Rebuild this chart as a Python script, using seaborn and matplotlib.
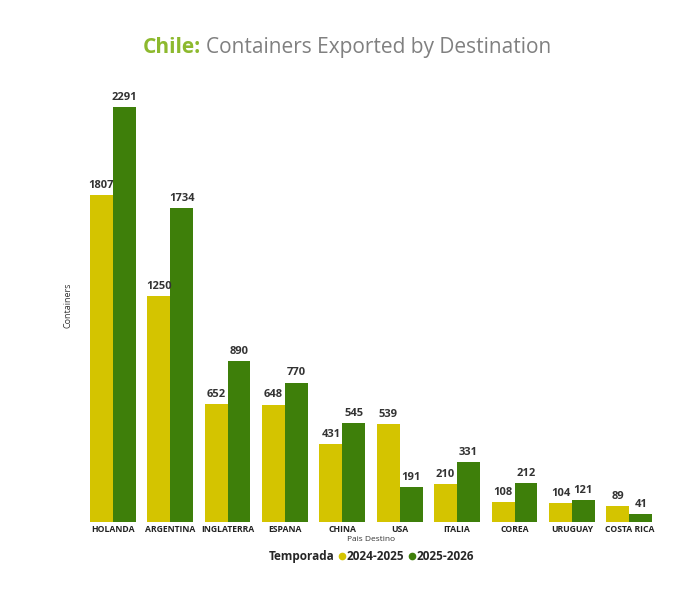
import pandas as pd
import seaborn as sns
import matplotlib.pyplot as plt
from matplotlib.offsetbox import HPacker

destinos = ['HOLANDA', 'ARGENTINA', 'INGLATERRA', 'ESPANA', 'CHINA',
            'USA', 'ITALIA', 'COREA', 'URUGUAY', 'COSTA RICA']
temp_2425 = [1807, 1250, 652, 648, 431, 539, 210, 108, 104, 89]
temp_2526 = [2291, 1734, 890, 770, 545, 191, 331, 212, 121, 41]
temporadas = ['2024-2025', '2025-2026']
colores = ['#D4C400', '#3E7F0A']

df = pd.DataFrame({
    'Pais Destino': destinos * 2,
    'Containers': temp_2425 + temp_2526,
    'Temporada': [temporadas[0]] * len(destinos) + [temporadas[1]] * len(destinos),
})

sns.set_theme(style='white')
plt.rcParams['font.family'] = ['Open Sans', 'DejaVu Sans']

fig = plt.figure(figsize=(7, 5.93), dpi=100)
ax = fig.add_axes([0.12, 0.12, 0.82, 0.732])

sns.barplot(data=df, x='Pais Destino', y='Containers', hue='Temporada',
            palette=colores, width=0.8, saturation=1, linewidth=0,
            ax=ax, legend=False)

for cont in ax.containers:
    ax.bar_label(cont, padding=3, fontsize=8, fontweight='bold', color='#333333')

ax.set_ylim(0, 2400)
ax.set_yticks([])
ax.set_xlim(-0.5, len(destinos) - 0.5)
for s in ax.spines.values():
    s.set_visible(False)
ax.tick_params(axis='x', length=0, pad=2)
for lab in ax.get_xticklabels():
    lab.set_fontsize(6.2)
    lab.set_fontweight('bold')
    lab.set_color('#222222')
ax.set_xlabel('Pais Destino', fontsize=6, color='#333333', labelpad=2)
ax.set_ylabel('Containers', fontsize=6.5, color='#333333', labelpad=8)

# legend with inline title
handles = [plt.Line2D([], [], marker='o', linestyle='', markersize=4.5,
                      color=c, label=t) for c, t in zip(colores, temporadas)]
leg = fig.legend(handles=handles, loc='center', bbox_to_anchor=(0.53, 0.062),
                 ncol=2, frameon=False, title='Temporada',
                 prop={'size': 8.5, 'weight': 'bold'}, handletextpad=0.0,
                 columnspacing=0.3, handlelength=0.7)
leg.get_title().set_fontweight('bold')
leg.get_title().set_fontsize(8.5)
title_box = leg._legend_box.get_children()[0]
body = leg._legend_box.get_children()[1]
leg._legend_box._children = [HPacker(children=[title_box, body], pad=0, sep=3, align='center')]

# title in two colours
fig.canvas.draw()
t1 = fig.text(0.204, 0.92, 'Chile:', fontsize=15, fontweight='bold',
              color='#8DB92E', va='center', ha='left')
r = fig.canvas.get_renderer()
bb = t1.get_window_extent(r)
x2 = (bb.x1 + 5) / fig.bbox.width
fig.text(x2, 0.92, 'Containers Exported by Destination', fontsize=15,
         color='#808080', va='center', ha='left')

fig.savefig('out.png', dpi=100)
